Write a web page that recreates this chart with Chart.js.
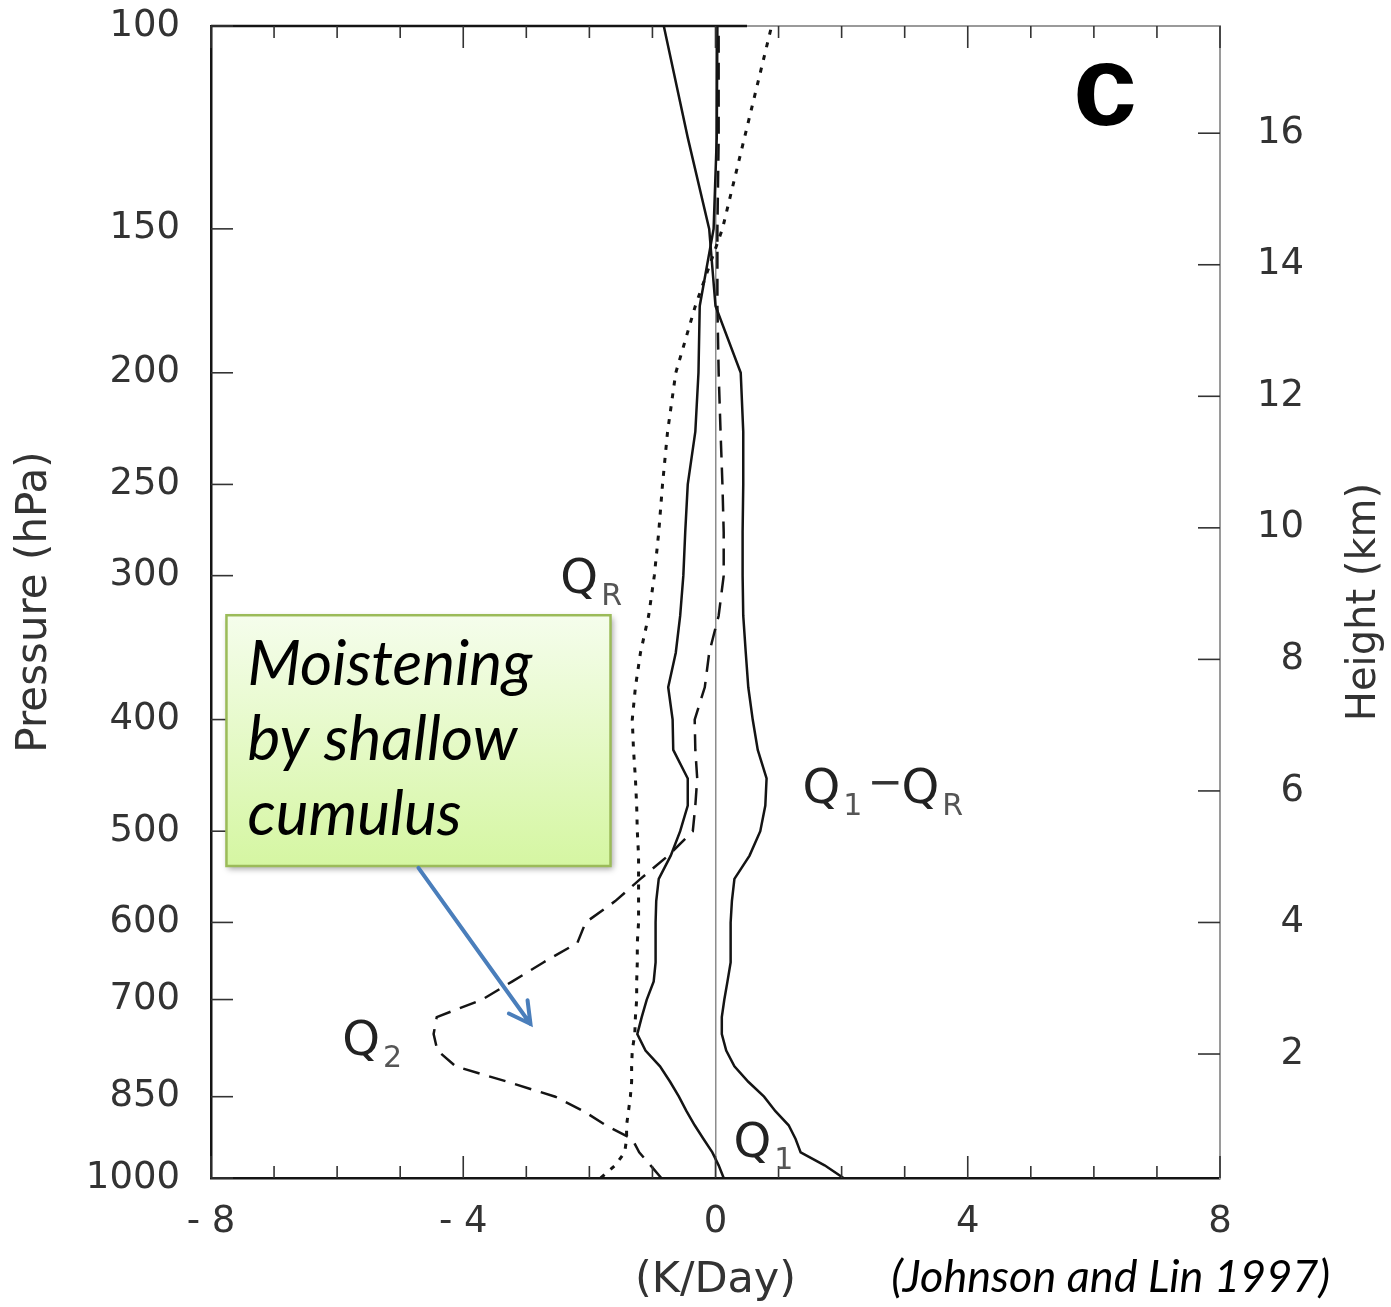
<!DOCTYPE html>
<html>
<head>
<meta charset="utf-8">
<title>Heating profiles</title>
<script src="https://cdn.jsdelivr.net/npm/chart.js@4.4.1/dist/chart.umd.min.js"></script>
<style>
  html, body { margin: 0; padding: 0; background: #fff; }
  canvas { display: block; }
</style>
</head>
<body>
<canvas id="profiles" width="1391" height="1307"></canvas>
<script>
// pressure levels (hPa), surface to top
var pressure = [1000, 975, 950, 925, 900, 875, 850, 825, 800, 775, 750, 725, 700, 675, 650, 625, 600, 575, 550, 525,
                500, 475, 450, 425, 400, 375, 350, 325, 300, 275, 250, 225, 200, 175, 150, 125, 100];

// heating / moistening profiles in K/day
var q1MinusQr = [2.03, 1.73, 1.35, 1.27, 1.16, 0.95, 0.77, 0.52, 0.30, 0.17, 0.10, 0.10, 0.14, 0.19, 0.24, 0.24, 0.24, 0.26, 0.30, 0.54,
                 0.71, 0.79, 0.81, 0.67, 0.59, 0.52, 0.48, 0.44, 0.43, 0.43, 0.44, 0.44, 0.40, 0.00, -0.10, -0.44, -0.82];
var q1 = [0.13, 0.05, -0.05, -0.19, -0.33, -0.46, -0.58, -0.72, -0.88, -1.11, -1.24, -1.17, -1.09, -0.98, -0.95, -0.95, -0.95, -0.94, -0.90, -0.71,
          -0.56, -0.44, -0.44, -0.67, -0.68, -0.75, -0.63, -0.56, -0.51, -0.48, -0.44, -0.32, -0.27, -0.25, -0.03, 0.02, 0.03];
var qr = [-1.82, -1.59, -1.44, -1.41, -1.41, -1.38, -1.35, -1.33, -1.33, -1.32, -1.28, -1.27, -1.25, -1.25, -1.24, -1.24, -1.22, -1.22, -1.22, -1.22,
          -1.24, -1.25, -1.27, -1.30, -1.32, -1.27, -1.19, -1.06, -0.97, -0.90, -0.84, -0.76, -0.63, -0.32, 0.11, 0.46, 0.89];
var q2 = [-0.86, -1.03, -1.21, -1.32, -1.74, -2.09, -2.54, -3.30, -4.12, -4.41, -4.47, -4.42, -3.70, -3.22, -2.73, -2.19, -2.06, -1.59, -1.19, -0.75,
          -0.36, -0.32, -0.29, -0.32, -0.33, -0.17, -0.10, 0.05, 0.13, 0.13, 0.11, 0.08, 0.05, 0.03, 0.03, 0.05, 0.05];

var pressureTicks = [100, 150, 200, 250, 300, 400, 500, 600, 700, 850, 1000];
var heightTicks = [2, 4, 6, 8, 10, 12, 14, 16];
var xMin = -8, xMax = 8;

var INK = '#141414';
var TICK_FONT = { family: '"DejaVu Sans"', size: 37 };

function profile(values) {
  return pressure.map(function (p, i) { return { x: values[i], y: p }; });
}

function line(label, values, dash, width) {
  return {
    label: label,
    data: profile(values),
    showLine: true,
    borderColor: INK,
    borderWidth: width,
    borderDash: dash,
    pointRadius: 0,
    tension: 0,
    fill: false
  };
}

// Q with a subscript, returns x where it ends
function drawQ(ctx, x, y, sub) {
  ctx.font = '48px "DejaVu Sans"';
  ctx.fillStyle = '#222';
  ctx.textAlign = 'left';
  ctx.textBaseline = 'alphabetic';
  ctx.fillText('Q', x, y);
  var w = ctx.measureText('Q').width;
  ctx.font = '30px "DejaVu Sans"';
  ctx.fillStyle = '#555';
  ctx.fillText(sub, x + w + 3, y + 12);
  return x + w + 3 + ctx.measureText(sub).width;
}

// keep the plot box exactly where the layout puts it
function noOverflow(s) {
  s.paddingTop = 0;
  s.paddingBottom = 0;
  s.paddingLeft = 0;
  s.paddingRight = 0;
}

var decorations = {
  id: 'decorations',
  afterDraw: function (chart) {
    var ctx = chart.ctx;
    var area = chart.chartArea;
    var sx = chart.scales.x, sy = chart.scales.y, sh = chart.scales.height;
    var px = function (v) { return sx.getPixelForValue(v); };
    var py = function (p) { return sy.getPixelForValue(p); };

    ctx.save();

    // top edge of the frame
    ctx.lineWidth = 2.5;
    ctx.strokeStyle = INK;
    ctx.beginPath();
    ctx.moveTo(area.left, area.top);
    ctx.lineTo(px(0.5), area.top);
    ctx.stroke();
    ctx.strokeStyle = '#9a9a9a';
    ctx.lineWidth = 2;
    ctx.beginPath();
    ctx.moveTo(px(0.5), area.top);
    ctx.lineTo(area.right, area.top);
    ctx.stroke();

    // inward tick marks
    ctx.strokeStyle = '#333';
    ctx.lineWidth = 1.6;
    sx.ticks.forEach(function (t) {
      var x = px(t.value);
      var len = t.value % 4 === 0 ? 22 : 12;
      ctx.beginPath();
      ctx.moveTo(x, area.bottom);
      ctx.lineTo(x, area.bottom - len);
      ctx.moveTo(x, area.top);
      ctx.lineTo(x, area.top + len);
      ctx.stroke();
    });
    sy.ticks.forEach(function (t) {
      var y = py(t.value);
      ctx.beginPath();
      ctx.moveTo(area.left, y);
      ctx.lineTo(area.left + 22, y);
      ctx.stroke();
    });
    sh.ticks.forEach(function (t) {
      var y = sh.getPixelForValue(t.value);
      ctx.beginPath();
      ctx.moveTo(area.right, y);
      ctx.lineTo(area.right - 22, y);
      ctx.stroke();
    });

    // right axis title, read bottom to top
    ctx.save();
    ctx.translate(1365, (area.top + area.bottom) / 2);
    ctx.rotate(-Math.PI / 2);
    ctx.font = '40px "DejaVu Sans"';
    ctx.fillStyle = '#333';
    ctx.textAlign = 'center';
    ctx.textBaseline = 'middle';
    ctx.fillText('Height (km)', 0, 0);
    ctx.restore();

    // panel letter
    ctx.font = 'bold 115px "Liberation Sans"';
    ctx.fillStyle = '#000';
    ctx.textAlign = 'center';
    ctx.textBaseline = 'alphabetic';
    ctx.fillText('c', area.right - 115, area.top + 99);

    // curve labels
    drawQ(ctx, px(-2.46), py(310.6), 'R');
    var e = drawQ(ctx, px(1.38), py(472.6), '1');
    ctx.font = '42px "DejaVu Sans"';
    ctx.fillStyle = '#333';
    ctx.fillText('\u2212', e + 5, py(472.6) - 7);
    drawQ(ctx, e + 39, py(472.6), 'R');
    drawQ(ctx, px(-5.92), py(782), '2');
    drawQ(ctx, px(0.285), py(959), '1');

    // annotation box
    var bx0 = px(-7.755), bx1 = px(-1.665), by0 = py(324.7), by1 = py(536);
    ctx.save();
    ctx.shadowColor = 'rgba(0,0,0,0.35)';
    ctx.shadowBlur = 6;
    ctx.shadowOffsetX = 2;
    ctx.shadowOffsetY = 3;
    var g = ctx.createLinearGradient(0, by0, 0, by1);
    g.addColorStop(0, '#f5fdec');
    g.addColorStop(1, '#d5f6a2');
    ctx.fillStyle = g;
    ctx.fillRect(bx0, by0, bx1 - bx0, by1 - by0);
    ctx.restore();
    ctx.strokeStyle = '#9bbb59';
    ctx.lineWidth = 2.5;
    ctx.strokeRect(bx0, by0, bx1 - bx0, by1 - by0);

    ctx.fillStyle = '#000';
    ctx.textAlign = 'left';
    ctx.font = 'italic 62px Lato';
    ctx.fillText('Moistening', bx0 + 21, by0 + 70);
    ctx.fillText('by shallow', bx0 + 21, by0 + 145);
    ctx.fillText('cumulus', bx0 + 21, by0 + 220);

    // arrow from the box to the low-level moistening
    var ax0 = px(-4.71), ay0 = py(538), ax1 = px(-2.934), ay1 = py(735);
    var ang = Math.atan2(ay1 - ay0, ax1 - ax0);
    ctx.strokeStyle = '#4a7ebb';
    ctx.lineWidth = 4;
    ctx.lineCap = 'round';
    ctx.beginPath();
    ctx.moveTo(ax0, ay0);
    ctx.lineTo(ax1, ay1);
    ctx.moveTo(ax1 - 24 * Math.cos(ang - 0.5), ay1 - 24 * Math.sin(ang - 0.5));
    ctx.lineTo(ax1, ay1);
    ctx.lineTo(ax1 - 24 * Math.cos(ang + 0.5), ay1 - 24 * Math.sin(ang + 0.5));
    ctx.stroke();

    // source
    ctx.fillStyle = '#000';
    ctx.font = 'italic 45px Lato';
    ctx.textAlign = 'right';
    ctx.fillText('(Johnson and Lin 1997)', chart.width - 61, chart.height - 15);

    ctx.restore();
  }
};

new Chart(document.getElementById('profiles'), {
  type: 'scatter',
  data: {
    datasets: [
      line('Q1 - QR', q1MinusQr, [], 2.5),
      line('Q1', q1, [], 2.5),
      line('QR', qr, [5, 8], 3),
      line('Q2', q2, [17, 10], 2.5)
    ]
  },
  options: {
    responsive: false,
    animation: false,
    devicePixelRatio: 1,
    layout: { padding: { top: 26, left: 0, right: 0, bottom: 0 } },
    plugins: {
      legend: { display: false },
      tooltip: { enabled: false }
    },
    scales: {
      x: {
        type: 'linear',
        min: xMin,
        max: xMax,
        afterFit: function (s) { s.height = 129; noOverflow(s); },
        ticks: {
          stepSize: 1,
          autoSkip: false,
          maxRotation: 0,
          padding: 22,
          color: '#333',
          font: TICK_FONT,
          callback: function (v) {
            if (v % 4 !== 0) return '';
            return v < 0 ? '- ' + Math.abs(v) : String(v);
          }
        },
        grid: {
          drawTicks: false,
          lineWidth: 1.5,
          color: function (c) { return c.tick && c.tick.value === 0 ? '#8c8c8c' : 'rgba(0,0,0,0)'; }
        },
        border: { display: true, color: INK, width: 2.5 },
        title: {
          display: true,
          text: '(K/Day)',
          color: '#333',
          font: { family: '"DejaVu Sans"', size: 43 },
          padding: { top: 0, bottom: 0 }
        }
      },
      y: {
        type: 'logarithmic',
        position: 'left',
        reverse: true,
        min: 100,
        max: 1000,
        afterFit: function (s) { s.width = 211; noOverflow(s); },
        afterBuildTicks: function (s) {
          s.ticks = pressureTicks.map(function (v) { return { value: v }; });
        },
        ticks: {
          padding: 31,
          color: '#333',
          font: TICK_FONT,
          callback: function (v) { return String(v); }
        },
        grid: { display: false, drawTicks: false },
        border: { display: true, color: INK, width: 2.5 },
        title: {
          display: true,
          text: 'Pressure (hPa)',
          color: '#333',
          font: { family: '"DejaVu Sans"', size: 42 },
          padding: { top: 10, bottom: 0 }
        }
      },
      height: {
        type: 'linear',
        position: 'right',
        min: 0.115,
        max: 17.63,
        afterFit: function (s) { s.width = 171; noOverflow(s); },
        afterBuildTicks: function (s) {
          s.ticks = heightTicks.map(function (v) { return { value: v }; });
        },
        ticks: {
          padding: 37,
          color: '#333',
          font: TICK_FONT,
          // figure space keeps single digits right-aligned with the two-digit ones
          callback: function (v) { return v < 10 ? '\u2007' + v : String(v); }
        },
        grid: { display: false, drawTicks: false },
        border: { display: true, color: '#9a9a9a', width: 2 }
      }
    }
  },
  plugins: [decorations]
});
</script>
</body>
</html>
